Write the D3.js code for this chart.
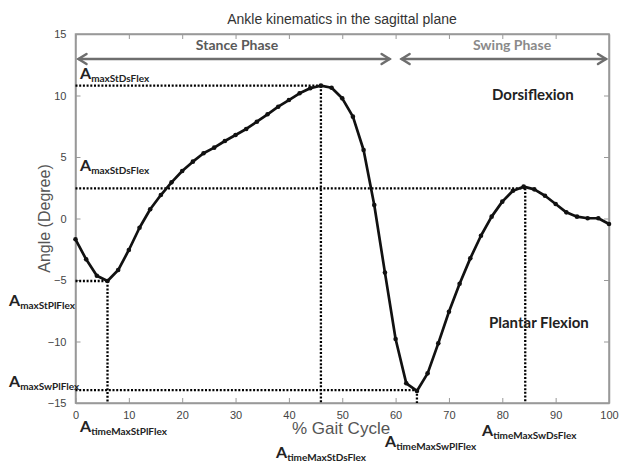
<!DOCTYPE html>
<meta charset="utf-8">
<style>
body { margin: 0; background: #fff; }
.tick text { font: 11px "Liberation Sans", Arial, sans-serif; fill: #444; }
.lbl { font-family: Lato, sans-serif; font-weight: bold; fill: #222; }
</style>
<body>
<svg width="620" height="462"></svg>
<script src="https://d3js.org/d3.v7.min.js"></script>
<script>
// % gait cycle sample points and ankle angle (degrees)
var gaitPct = [0, 2, 4, 6, 8, 10, 12, 14, 16, 18, 20, 22, 24, 26, 28, 30, 32, 34, 36, 38, 40,
  42, 44, 46, 48, 50, 52, 54, 56, 58, 60, 62, 64, 66, 68, 70, 72, 74, 76, 78, 80,
  82, 84, 86, 88, 90, 92, 94, 96, 98, 100];
var ankleAngle = [-1.69, -3.32, -4.65, -5.08, -4.19, -2.56, -0.75, 0.75, 1.91, 2.94, 3.86,
  4.62, 5.30, 5.76, 6.30, 6.79, 7.28, 7.87, 8.47, 9.09, 9.63,
  10.18, 10.59, 10.80, 10.63, 9.77, 8.28, 5.57, 1.10, -4.40, -9.80,
  -13.40, -14.02, -12.59, -10.15, -7.58, -5.30, -3.24, -1.40, 0.15, 1.37,
  2.26, 2.59, 2.37, 1.85, 1.18, 0.50, 0.15, 0.02, 0.02, -0.45];

// gait events: time (% cycle) and angle (degrees)
var eventTime  = [6, 46, 64, 84.3];
var eventAngle = [-5.08, 10.8, -13.95, 2.45];

var xTicks = [0, 10, 20, 30, 40, 50, 60, 70, 80, 90, 100];
var yTicks = [-15, -10, -5, 0, 5, 10, 15];

var phaseNames = ["Stance Phase", "Swing Phase"];
var phaseBounds = [[0, 60], [60, 100]];

var svg = d3.select("svg");
var pLeft = 75.5, pRight = 609, pTop = 34, pBottom = 403;

var x = d3.scaleLinear().domain([0, 100]).range([pLeft, pRight]);
var y = d3.scaleLinear().domain([-15, 15]).range([pBottom, pTop]);

svg.append("text")
  .attr("x", 342).attr("y", 24)
  .attr("text-anchor", "middle")
  .style("font", "14px 'Liberation Sans', Arial, sans-serif")
  .style("fill", "#333")
  .text("Ankle kinematics in the sagittal plane");

// box + axes (matlab style ticks pointing in)
svg.append("rect")
  .attr("x", pLeft).attr("y", pTop)
  .attr("width", pRight - pLeft).attr("height", pBottom - pTop)
  .attr("fill", "none").attr("stroke", "#999").attr("stroke-width", 1.5);

var gx = svg.append("g")
  .attr("transform", "translate(0," + pBottom + ")")
  .call(d3.axisBottom(x).tickValues(xTicks).tickSizeInner(-5).tickSizeOuter(0).tickPadding(8));
var gy = svg.append("g")
  .attr("transform", "translate(" + pLeft + ",0)")
  .call(d3.axisLeft(y).tickValues(yTicks).tickSizeInner(-5).tickSizeOuter(0).tickPadding(9));
svg.append("g")
  .attr("transform", "translate(0," + pTop + ")")
  .call(d3.axisTop(x).tickValues(xTicks).tickSizeInner(-5).tickSizeOuter(0).tickFormat(""));
svg.append("g")
  .attr("transform", "translate(" + pRight + ",0)")
  .call(d3.axisRight(y).tickValues(yTicks).tickSizeInner(-5).tickSizeOuter(0).tickFormat(""));
svg.selectAll(".domain").attr("stroke", "#999").attr("stroke-width", 1.5);
svg.selectAll(".tick line").attr("stroke", "#999");

svg.append("text")
  .attr("transform", "translate(50," + y(0) + ") rotate(-90)")
  .attr("text-anchor", "middle")
  .style("font", "16px 'Liberation Sans', Arial, sans-serif")
  .style("fill", "#555")
  .text("Angle (Degree)");

svg.append("text")
  .attr("x", 341).attr("y", 434)
  .attr("text-anchor", "middle")
  .style("font", "17px 'Liberation Sans', Arial, sans-serif")
  .style("fill", "#555")
  .text("% Gait Cycle");

// phase arrows
var arrowY = 59;
phaseBounds.forEach(function(b, i) {
  var x0 = x(b[0]) + 3 + (i ? 3 : 0), x1 = x(b[1]) - 3 - (i ? 0 : 3);
  var g = svg.append("g").attr("stroke", "#6e6e6e").attr("stroke-width", 2.5)
    .attr("fill", "none").attr("stroke-linecap", "round");
  g.append("line").attr("x1", x0).attr("x2", x1).attr("y1", arrowY).attr("y2", arrowY);
  g.append("path").attr("d", "M" + (x0 + 8) + "," + (arrowY - 5) + "L" + x0 + "," + arrowY + "L" + (x0 + 8) + "," + (arrowY + 5));
  g.append("path").attr("d", "M" + (x1 - 8) + "," + (arrowY - 5) + "L" + x1 + "," + arrowY + "L" + (x1 - 8) + "," + (arrowY + 5));
  svg.append("text")
    .attr("class", "lbl")
    .attr("x", i ? 512 : 237).attr("y", 50)
    .attr("text-anchor", "middle")
    .style("font-size", "14px")
    .style("fill", i ? "#8a8a8a" : "#5a5a5a")
    .text(phaseNames[i]);
});

// dotted event guides
eventTime.forEach(function(t, i) {
  var a = eventAngle[i];
  svg.append("path")
    .attr("d", "M" + x(0) + "," + y(a) + "H" + x(t) + "M" + x(t) + "," + y(a) + "V" + y(-15))
    .attr("fill", "none").attr("stroke", "#000")
    .attr("stroke-width", 2.3).attr("stroke-dasharray", "2,1.7");
});

// curve
var pts = gaitPct.map(function(p, i) { return [p, ankleAngle[i]]; });
svg.append("path")
  .datum(pts)
  .attr("fill", "none").attr("stroke", "#111").attr("stroke-width", 2.7)
  .attr("stroke-linejoin", "round")
  .attr("d", d3.line().x(function(d) { return x(d[0]); }).y(function(d) { return y(d[1]); }));
svg.selectAll(".pt")
  .data(pts).enter().append("circle")
  .attr("cx", function(d) { return x(d[0]); })
  .attr("cy", function(d) { return y(d[1]); })
  .attr("r", 2.3).attr("fill", "#111");

// labels with subscripts
var labels = [
  ["maxStDsFlex", 80, 79],
  ["maxStDsFlex", 80, 171],
  ["maxStPlFlex", 9, 306],
  ["maxSwPlFlex", 9, 387],
  ["timeMaxStPlFlex", 80, 432],
  ["timeMaxStDsFlex", 276, 458],
  ["timeMaxSwPlFlex", 385, 447],
  ["timeMaxSwDsFlex", 482, 436]
];
labels.forEach(function(l) {
  var t = svg.append("text").attr("class", "lbl").attr("x", l[1]).attr("y", l[2]);
  t.append("tspan").style("font-size", "16px").text("A");
  t.append("tspan").attr("dy", 3).style("font-size", "10px").text(l[0]);
});

svg.append("text").attr("class", "lbl")
  .attr("x", 492).attr("y", 100).style("font-size", "15px").text("Dorsiflexion");
svg.append("text").attr("class", "lbl")
  .attr("x", 489).attr("y", 328).style("font-size", "15px").text("Plantar Flexion");
</script>
</body>
